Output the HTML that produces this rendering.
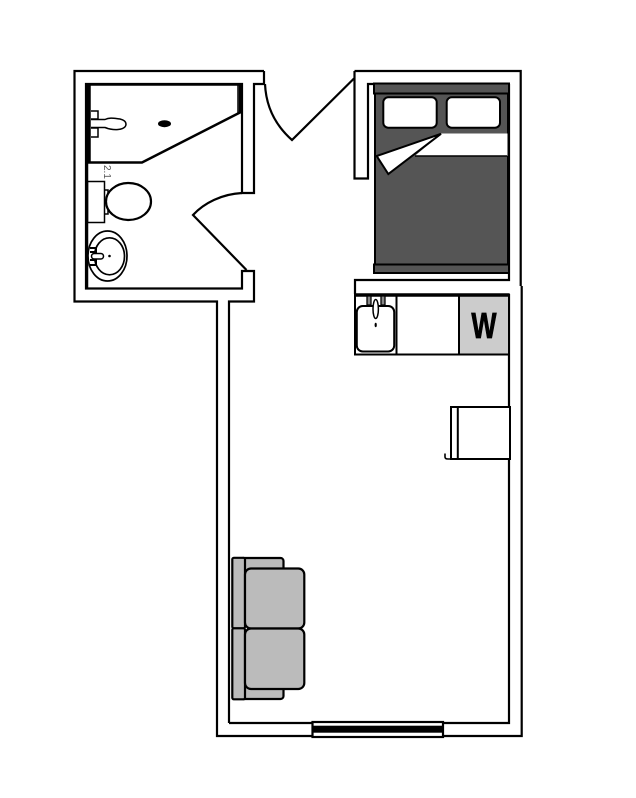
<!DOCTYPE html>
<html><head><meta charset="utf-8"><style>
html,body{margin:0;padding:0;background:#fff}
svg{display:block}
</style></head><body>
<svg width="636" height="798" viewBox="0 0 636 798" xmlns="http://www.w3.org/2000/svg" fill="none" stroke="#000" stroke-width="2.2" font-family="'Liberation Sans',sans-serif">
<rect width="636" height="798" fill="#fff" stroke="none"/>
<!-- bathroom walls -->
<path d="M264 71H74.5V301.5H217V736H312M229 723V301.5H254V271H242V288.5H86V84H242V193H254V84H264V71"/>
<!-- bathroom inner left thick -->
<path d="M87 84V289" stroke-width="2.5"/>
<!-- shower -->
<path d="M88.5 84.5H240V112.5L142 162.5H88.5Z" stroke-width="2.5"/>
<path d="M238 85V113" stroke-width="1.5"/>
<path d="M90 85V162" stroke-width="1.5"/>
<ellipse cx="164.5" cy="123.7" rx="6.5" ry="3.5" fill="#000" stroke="none"/>
<path d="M91 111H98V119H91M91 128H98V137H91" stroke-width="1.5"/>
<path d="M91 119.5H105C110 117 115 118.5 120 119C124 120 126 122 126 124C126 127 123 129 118 129.5C113 130 109 129 105 127.5H91" stroke-width="1.5"/>
<!-- faint label remnant -->
<text x="0" y="0" transform="translate(104,165) rotate(90)" font-size="10" fill="#555" stroke="none">2.1</text>
<!-- toilet -->
<rect x="87.5" y="181.5" width="17" height="41" stroke-width="1.5"/>
<path d="M104.5 190H108V214H104.5" stroke-width="1.5"/>
<ellipse cx="128.5" cy="201.5" rx="22.5" ry="18.5" fill="#fff"/>
<!-- basin -->
<ellipse cx="107.5" cy="256" rx="19.5" ry="25" stroke-width="1.7"/>
<ellipse cx="109.5" cy="256.3" rx="15" ry="18.5" stroke-width="1.7"/>
<circle cx="109.5" cy="256" r="1.3" fill="#000" stroke="none"/>
<path d="M90 248H96V252H90M90 260H96V265H90" stroke-width="2"/>
<rect x="91.5" y="253.5" width="12" height="5.5" rx="2.7" fill="#fff" stroke-width="1.5"/>
<!-- bathroom door -->
<path d="M242 193C222 194 204 203 193 215L246.5 270"/>
<!-- entry door -->
<path d="M265 84C266 106 275 125 292 140L354 78.5"/>
<!-- right wall -->
<path d="M354.5 71H520.7V286" />
<path d="M521.7 286V736H443"/>
<path d="M354.5 71V178.5H368V84H376"/>
<path d="M509 84V280H355V294"/>
<path d="M509 294V723H443M312 723H229"/>
<!-- window -->
<rect x="312.5" y="722" width="130.5" height="15" fill="#fff"/>
<rect x="313" y="725.7" width="130" height="7" fill="#000" stroke="none"/>
<!-- bed -->
<rect x="375" y="84" width="133" height="188" fill="#555" stroke-width="2"/>
<rect x="374" y="83.5" width="135" height="10" fill="#555" stroke-width="2"/>
<rect x="374" y="264.5" width="135" height="8.5" fill="#555" stroke-width="2"/>
<rect x="383.3" y="97.3" width="53.4" height="30.4" rx="5" fill="#fff" stroke-width="2"/>
<rect x="446.7" y="97.3" width="53.3" height="30.4" rx="5" fill="#fff" stroke-width="2"/>
<path d="M441.5 133.5H507.5V155.7H415Z" fill="#fff" stroke="none"/>
<path d="M415 156H507" stroke-width="1.5"/>
<path d="M376.7 156L441 133.8L388.3 174Z" fill="#fff" stroke-width="2"/>
<!-- counter -->
<rect x="355" y="294.5" width="154" height="60" fill="#fff" stroke-width="2"/>
<rect x="459" y="295" width="50" height="59.5" fill="#ccc" stroke="none"/>
<path d="M355 295H509V354.5H355Z" stroke-width="2"/>
<path d="M355 295H509" stroke-width="3.5"/>
<path d="M396.5 295V354M459 295V354" stroke-width="2"/>
<path d="M509 295V355" stroke-width="2"/>
<text transform="translate(484,338) scale(0.74,1)" text-anchor="middle" font-size="36" font-weight="700" fill="#000" stroke="#000" stroke-width="0.8">W</text>
<!-- sink -->
<rect x="356.8" y="306" width="37.4" height="45.5" rx="6" fill="#fff" stroke-width="2"/>
<path d="M367 296H371V305H367ZM381 296H385V305H381Z" fill="#888" stroke-width="1.3"/>
<ellipse cx="375.7" cy="309" rx="2.7" ry="9.5" fill="#fff" stroke-width="1.5"/>
<ellipse cx="375.7" cy="325" rx="1.1" ry="2.2" fill="#000" stroke="none"/>
<!-- desk -->
<rect x="451" y="407" width="59" height="52" fill="#fff" stroke-width="2"/>
<path d="M457.8 407V459" stroke-width="2"/>
<path d="M445 453.5V457C445 458.5 446 459 448 459H451" stroke-width="1.6"/>
<!-- sofa -->
<g fill="#bbb" stroke-width="2.2">
<rect x="240" y="558" width="43.5" height="13" rx="3"/>
<rect x="240" y="686" width="43.5" height="13" rx="3"/>
<rect x="232.3" y="557.8" width="12.7" height="70.5" rx="1.5"/>
<rect x="232.3" y="628.3" width="12.7" height="71" rx="1.5"/>
<rect x="245" y="568.5" width="59.3" height="60" rx="6"/>
<rect x="245" y="628.5" width="59.3" height="60.5" rx="6"/>
</g>
</svg>
</body></html>
